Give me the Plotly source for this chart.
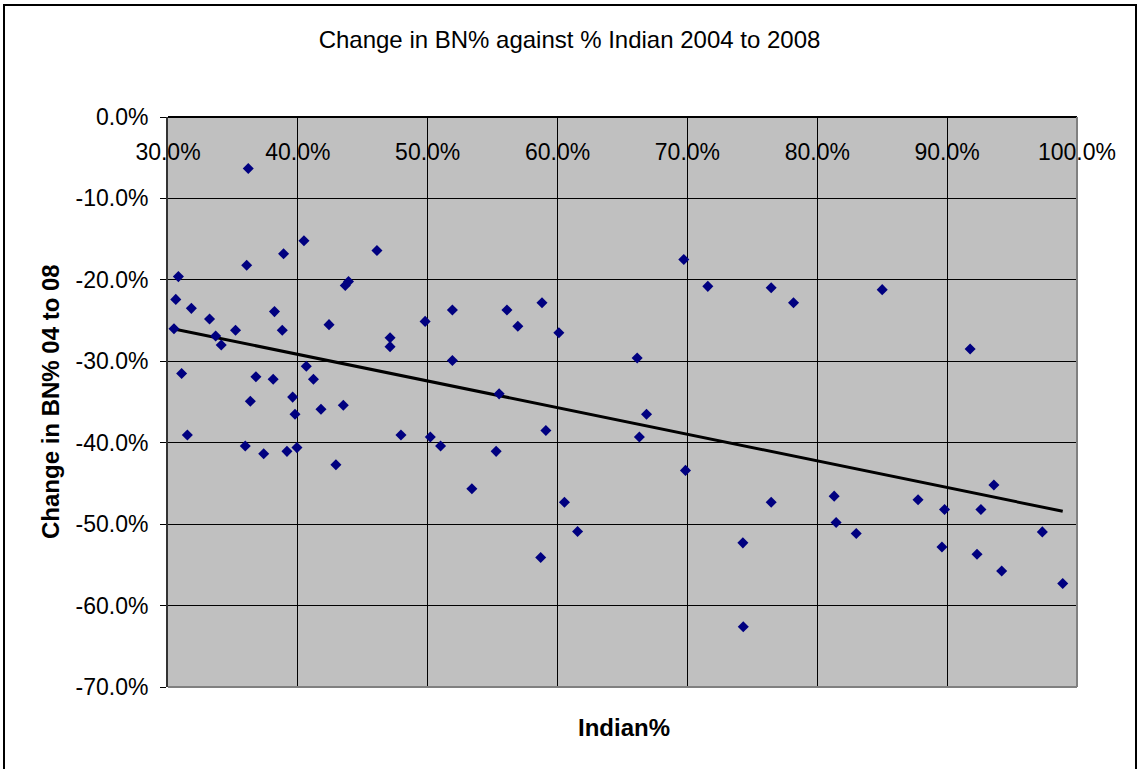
import numpy as np
import plotly.graph_objects as go

# ---- data ----
indian_pct = [36.18, 40.47, 46.09, 38.9, 36.06, 30.8, 43.9, 43.65, 30.6, 31.8,
              38.2, 33.2, 51.9, 42.4, 49.8, 35.2, 38.8, 30.46, 33.67, 34.1,
              47.1, 47.1, 51.9, 40.65, 31.05, 36.77, 38.1, 41.2, 39.6, 36.34,
              41.78, 43.5, 39.78, 31.49, 47.94, 50.2, 35.95, 50.99, 39.93, 39.16,
              37.37, 42.93, 69.72, 71.57, 56.1, 58.8, 56.94, 60.1, 66.13, 55.5,
              66.85, 59.1, 66.3, 55.27, 69.85, 53.4, 60.53, 61.54, 58.7, 74.27,
              76.45, 78.17, 85.0, 91.77, 76.45, 81.3, 87.76, 89.8, 93.6, 92.6,
              81.45, 83.0, 97.33, 89.6, 92.3, 94.2, 98.9, 74.3]
bn_change_pct = [-6.33, -15.2, -16.4, -16.8, -18.2, -19.6, -20.2, -20.7, -22.4, -23.5,
                 -23.9, -24.8, -23.7, -25.5, -25.1, -26.2, -26.2, -26.0, -26.9, -28.0,
                 -27.1, -28.2, -29.9, -30.6, -31.5, -31.9, -32.2, -32.2, -34.4, -34.9,
                 -35.9, -35.4, -36.5, -39.05, -39.05, -39.3, -40.4, -40.4, -40.6, -41.06,
                 -41.35, -42.7, -17.5, -20.8, -23.7, -22.8, -25.7, -26.5, -29.6, -34.0,
                 -36.5, -38.5, -39.3, -41.06, -43.4, -45.66, -47.3, -50.9, -54.1, -52.3,
                 -20.97, -22.8, -21.2, -28.5, -47.3, -46.56, -47.0, -48.2, -45.2, -48.2,
                 -49.8, -51.15, -50.95, -52.8, -53.7, -55.75, -57.3, -62.6]

x_tick_vals = [0.3, 0.4, 0.5, 0.6, 0.7, 0.8, 0.9, 1.0]
x_tick_text = ["30.0%", "40.0%", "50.0%", "60.0%", "70.0%", "80.0%", "90.0%", "100.0%"]
y_tick_vals = [0.0, -0.1, -0.2, -0.3, -0.4, -0.5, -0.6, -0.7]
y_tick_text = ["0.0%", "-10.0%", "-20.0%", "-30.0%", "-40.0%", "-50.0%", "-60.0%", "-70.0%"]

title_text = "Change in BN% against % Indian 2004 to 2008"
x_title = "Indian%"
y_title = "Change in BN% 04 to 08"

x = np.array(indian_pct) / 100.0
y = np.array(bn_change_pct) / 100.0

# linear trendline (least squares)
slope, intercept = np.polyfit(x, y, 1)
tx = np.array([x.min(), x.max()])
ty = slope * tx + intercept

W, H = 1139, 769
L, R, T, B = 168, 62, 117, 82
PW, PH = W - L - R, H - T - B

def px(xp):
    return (xp - L) / PW

def py(yp):
    return (H - B - yp) / PH

FONT = "Liberation Sans, Arial, sans-serif"

fig = go.Figure()
fig.add_trace(go.Scatter(
    x=tx, y=ty, mode="lines",
    line=dict(color="black", width=3),
    hoverinfo="skip", showlegend=False))
fig.add_trace(go.Scatter(
    x=x, y=y, mode="markers",
    marker=dict(symbol="diamond", size=8.5, color="#000080", line=dict(width=0)),
    showlegend=False))

fig.update_layout(
    width=W, height=H,
    margin=dict(l=L, r=R, t=T, b=B, pad=0, autoexpand=False),
    paper_bgcolor="white",
    plot_bgcolor="#C0C0C0",
    font=dict(family=FONT, color="black"),
    title=dict(text=title_text, x=0.5, xref="container", xanchor="center",
               y=1 - 40 / H, yref="container", yanchor="middle",
               font=dict(family=FONT, size=24, color="black")),
    xaxis=dict(range=[0.3, 1.0], anchor="free", position=1.0, side="bottom",
               tickvals=x_tick_vals, ticktext=x_tick_text,
               ticks="", ticklabelstandoff=15, automargin=False,
               showgrid=True, gridcolor="black", gridwidth=1,
               showline=True, linecolor="black", linewidth=1.5,
               zeroline=False, tickfont=dict(family=FONT, size=23, color="black")),
    yaxis=dict(range=[-0.7, 0.0], tickvals=y_tick_vals, ticktext=y_tick_text,
               ticks="outside", ticklen=6, tickcolor="black", tickwidth=1,
               ticklabelstandoff=7, automargin=False,
               showgrid=True, gridcolor="black", gridwidth=1,
               showline=True, linecolor="#333333", linewidth=2,
               zeroline=False, tickfont=dict(family=FONT, size=23, color="black")),
    annotations=[
        dict(text="<b>" + x_title + "</b>", xref="paper", yref="paper",
             x=px(624), y=py(727), xanchor="center", yanchor="middle", showarrow=False,
             font=dict(family=FONT, size=24, color="black")),
        dict(text="<b>" + y_title + "</b>", xref="paper", yref="paper",
             x=px(50), y=py(402), xanchor="center", yanchor="middle", showarrow=False,
             textangle=-90, font=dict(family=FONT, size=24, color="black")),
    ],
    shapes=[
        # plot area border (right & bottom, grey)
        dict(type="line", xref="paper", yref="paper", x0=1, x1=1, y0=0, y1=1,
             line=dict(color="#808080", width=2), layer="above"),
        dict(type="line", xref="paper", yref="paper", x0=0, x1=1, y0=0, y1=0,
             line=dict(color="#808080", width=2), layer="above"),
        # outer chart border
        dict(type="rect", xref="paper", yref="paper",
             x0=px(4), x1=px(1136), y0=py(780), y1=py(5),
             line=dict(color="black", width=2), fillcolor="rgba(0,0,0,0)", layer="above"),
    ],
)

fig.write_html("out.html",
               config={"displayModeBar": False},
               post_script="document.body.style.margin='0';document.body.style.padding='0';")
